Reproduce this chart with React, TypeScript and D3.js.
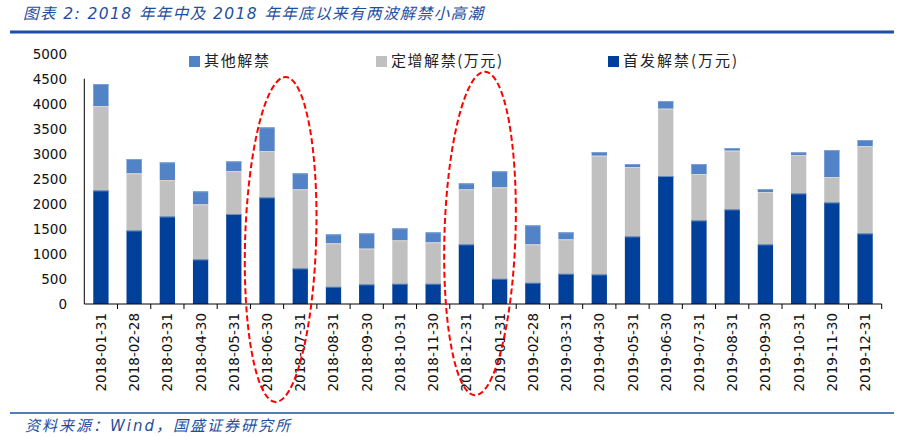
import React from 'react';
import * as d3 from 'd3';

const dates = [
  '2018-01-31', '2018-02-28', '2018-03-31', '2018-04-30', '2018-05-31', '2018-06-30',
  '2018-07-31', '2018-08-31', '2018-09-30', '2018-10-31', '2018-11-30', '2018-12-31',
  '2019-01-31', '2019-02-28', '2019-03-31', '2019-04-30', '2019-05-31', '2019-06-30',
  '2019-07-31', '2019-08-31', '2019-09-30', '2019-10-31', '2019-11-30', '2019-12-31',
];
// 首发解禁(万元)
const ipoValues = [2270, 1470, 1750, 892, 1797, 2130, 712, 346, 393, 406, 406, 1192, 506, 426, 606, 592, 1351, 2556, 1671, 1891, 1192, 2210, 2030, 1411];
// 定增解禁(万元)
const placementValues = [1684, 1140, 726, 1098, 859, 926, 1578, 866, 712, 865, 826, 1098, 1824, 766, 685, 2370, 1385, 1345, 925, 1171, 1045, 766, 506, 1744];
// 其他解禁
const otherValues = [440, 286, 353, 260, 193, 472, 320, 179, 306, 240, 199, 120, 320, 379, 140, 74, 60, 153, 200, 53, 60, 53, 540, 120];
const yTicks = [0, 500, 1000, 1500, 2000, 2500, 3000, 3500, 4000, 4500, 5000];
// highlighted periods (boundary after these months)
const highlightAfter = ['2018-06-30', '2018-12-31'];

const seriesKeys = ['ipo', 'placement', 'other'];
const seriesColor: Record<string, string> = { ipo: '#00409A', placement: '#C0C0C0', other: '#5183C6' };
const legendItems = [
  { key: 'other', label: '其他解禁', x: 189, len: 65 },
  { key: 'placement', label: '定增解禁(万元)', x: 376, len: 111 },
  { key: 'ipo', label: '首发解禁(万元)', x: 608, len: 114 },
];

const W = 910;
const H = 437;
const left = 84.3;
const right = 881.7;
const bottom = 304;

const titleFont = '"DejaVu Sans", "Noto Sans CJK SC", sans-serif';
const cjk = '"Noto Sans CJK SC", sans-serif';
const numFont = '"DejaVu Sans", Verdana, sans-serif';

export default function App() {
  const rows = dates.map((d, i) => ({ date: d, ipo: ipoValues[i], placement: placementValues[i], other: otherValues[i] }));
  const stack = d3.stack<any>().keys(seriesKeys)(rows);

  const x = d3.scaleBand<string>().domain(dates).range([left, right]).padding(0);
  const y = d3.scaleLinear().domain([0, 5000]).range([bottom, 53.7]);
  const bw = x.bandwidth() * 0.46;

  return (
    <svg width={W} height={H} style={{ position: 'absolute', left: 0, top: 0, background: '#fff' }}>
      {/* title */}
      <text x={23} y={19} fontSize={15.5} fontStyle="italic" fill="#1E4E9E" fontFamily={titleFont}
        textLength={460} lengthAdjust="spacing">
        图表 2:  2018 年年中及 2018 年年底以来有两波解禁小高潮
      </text>
      <line x1={10} x2={894} y1={32} y2={32} stroke="#1A50A6" strokeWidth={2.8} />

      {/* legend */}
      {legendItems.map(l => (
        <g key={l.key}>
          <rect x={l.x} y={56} width={11} height={11} fill={seriesColor[l.key]} />
          <text x={l.x + 15} y={66} fontSize={15} fill="#222" fontFamily={cjk} textLength={l.len} lengthAdjust="spacing">{l.label}</text>
        </g>
      ))}

      {/* y tick labels */}
      {yTicks.map(t => (
        <text key={t} x={67} y={y(t)} dy="0.36em" textAnchor="end" fontSize={13.5} fill="#111" fontFamily={numFont}>
          {t}
        </text>
      ))}

      {/* bars */}
      {stack.map(s => (
        <g key={s.key} fill={seriesColor[s.key]}>
          {s.map((d, i) => (
            <rect
              key={i}
              x={(x(dates[i]) as number) + (x.bandwidth() - bw) / 2}
              y={y(d[1])}
              width={bw}
              height={y(d[0]) - y(d[1])}
            />
          ))}
        </g>
      ))}
      {/* thin segment edges */}
      {stack.map(s => (
        <g key={'e' + s.key} stroke={s.key === 'ipo' ? '#6F8FB8' : s.key === 'placement' ? '#D6D6D6' : '#7EA2D6'} strokeWidth={1}>
          {s.map((d, i) => {
            const x0 = (x(dates[i]) as number) + (x.bandwidth() - bw) / 2;
            return <line key={i} x1={x0} x2={x0 + bw} y1={y(d[1]) + 0.5} y2={y(d[1]) + 0.5} />;
          })}
        </g>
      ))}

      {/* axes */}
      <line x1={left} x2={left} y1={y(4500)} y2={bottom} stroke="#000" strokeWidth={1} />
      <line x1={left} x2={right} y1={bottom} y2={bottom} stroke="#000" strokeWidth={1} />
      {dates.map((d, i) => (
        <line key={'t' + i} x1={(x(d) as number) + x.bandwidth()} x2={(x(d) as number) + x.bandwidth()} y1={bottom} y2={bottom + 5} stroke="#000" />
      ))}

      {/* x labels */}
      {dates.map(d => {
        const cx = (x(d) as number) + x.bandwidth() / 2;
        return (
          <text key={'l' + d} transform={`translate(${cx + 5},${313}) rotate(-90)`} textAnchor="end" fontSize={13.5} fill="#111" fontFamily={numFont}>
            {d}
          </text>
        );
      })}

      {/* red dashed ellipses */}
      {highlightAfter.map((d, k) => {
        const bx = (x(d) as number) + x.bandwidth();
        const cy = k === 0 ? 239.5 : 233.5;
        const ry = k === 0 ? 162.5 : 161.8;
        return (
          <ellipse
            key={'el' + d}
            cx={bx - 3}
            cy={cy}
            rx={35.5}
            ry={ry}
            transform={`rotate(1.8,${bx - 3},${cy})`}
            fill="none"
            stroke="#FF0000"
            strokeWidth={2}
            strokeDasharray="6,3"
          />
        );
      })}

      {/* source */}
      <line x1={10} x2={894} y1={413} y2={413} stroke="#1A50A6" strokeWidth={1.6} />
      <text x={25} y={431} fontSize={15} fontStyle="italic" fill="#1E4E9E" fontFamily={titleFont}
        textLength={265} lengthAdjust="spacing">
        资料来源：Wind，国盛证券研究所
      </text>
    </svg>
  );
}
